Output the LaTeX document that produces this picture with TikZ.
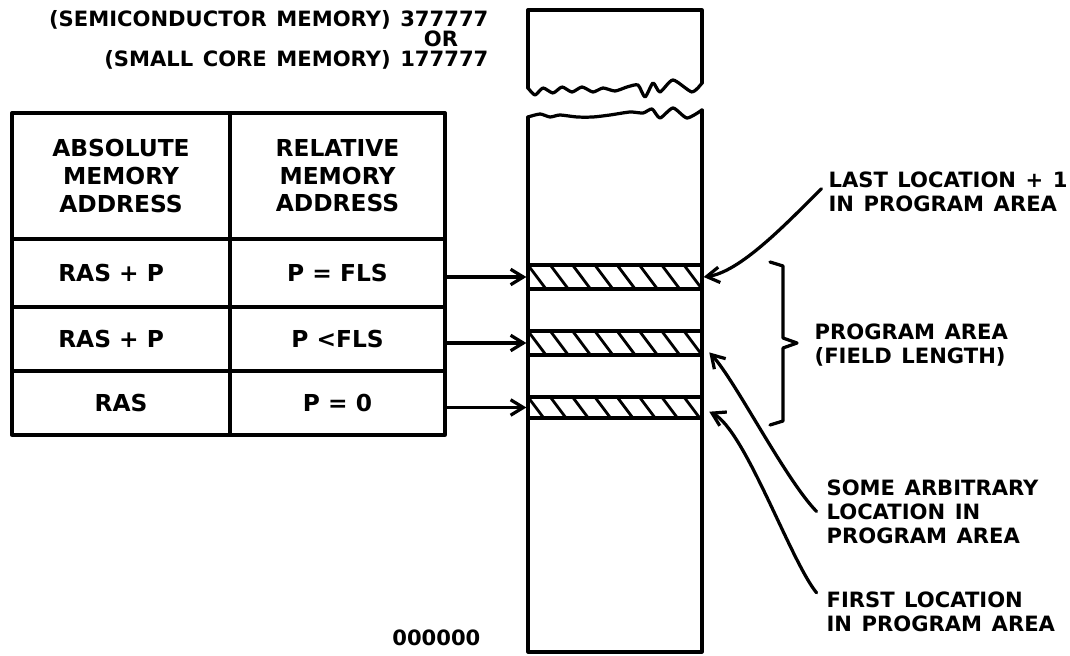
\documentclass[tikz,border=0pt]{standalone}
\usepackage{fontspec}
\setsansfont{DejaVu Sans}[WordSpace=1.3]
\newfontfamily\cellfont{DejaVu Sans}
\usetikzlibrary{arrows.meta}

\begin{document}
\begin{tikzpicture}[x=0.025cm,y=-0.025cm,line width=2.3pt,line join=round,line cap=round,
  every node/.style={inner sep=0pt,font=\sffamily\bfseries\fontsize{15}{17}\selectfont},
  cell/.style={draw,align=center,font=\cellfont\bfseries\fontsize{16.6}{19.6}\selectfont},
  lcol/.style={cell,minimum width=5.45cm},
  rcol/.style={cell,minimum width=5.375cm},
  band/.style={draw,fill=white,minimum width=4.35cm,
    path picture={\foreach \k in {0,...,8}
      \draw[line width=2pt] ([xshift=\k*0.557cm]path picture bounding box.north west) -- ++(0.5cm,-0.667cm);}},
  callout/.style={align=left},
  conn/.style={-{Straight Barb[length=9pt,width=11pt]}}]
\useasboundingbox (0,0) rectangle (1070,656);

% memory column with break
\draw (528,88) -- (528,10) -- (702,10) -- (702,83);
\draw plot[smooth,tension=0.4] coordinates {(528,88) (535,95) (543,88) (553,93) (562,87) (572,92) (582,87) (593,92) (603,88) (615,91) (627,87) (638,85) (645,97) (653,83) (660,92) (673,80) (692,92) (702,83)};
\draw plot[smooth,tension=0.4] coordinates {(528,117) (540,114) (550,117) (560,115) (577,117) (593,117) (610,115) (630,112) (643,113) (652,109) (660,118) (673,108) (687,118) (702,110)};
\draw (528,117) -- (528,652) -- (702,652) -- (702,110);

\node[band,minimum height=0.6cm] (b1) at (615,277) {};
\node[band,minimum height=0.6cm] (b2) at (615,343) {};
\node[band,minimum height=0.525cm] (b3) at (615,407.5) {};

% address table
\node[lcol,minimum height=3.15cm] (h1) at (121,176) {ABSOLUTE\\MEMORY\\ADDRESS};
\node[rcol,minimum height=3.15cm] (h2) at (337.5,176) {RELATIVE\\MEMORY\\ADDRESS};
\node[lcol,minimum height=1.7cm] (a1) at (121,273) {RAS + P\hspace{14pt}};
\node[rcol,minimum height=1.7cm] (r1) at (337.5,273) {P = FLS};
\node[lcol,minimum height=1.6cm] (a2) at (121,339) {RAS + P\hspace{14pt}};
\node[rcol,minimum height=1.6cm] (r2) at (337.5,339) {P <FLS};
\node[lcol,minimum height=1.6cm] (a3) at (121,403) {RAS};
\node[rcol,minimum height=1.6cm] (r3) at (337.5,403) {P = 0};

\draw[conn] (b1.west -| r1.east) -- (b1.west);
\draw[conn] (b2.west -| r2.east) -- (b2.west);
\draw[conn] (b3.west -| r3.east) -- (b3.west);

% addresses
\node[anchor=base east] (semi) at (490,27) {(SEMICONDUCTOR MEMORY) 377777};
\node[anchor=base] (or) at (441,47) {OR};
\node[anchor=base east] (small) at (490,67) {(SMALL CORE MEMORY) 177777};
\node[anchor=base east] (zero) at (482,645) {000000};

% brace and labels
\draw (770,262) -- (783,266) -- (783,338) -- (797,343) -- (783,348) -- (783,421) -- (770,425);
\node[callout,anchor=north west] (prog) at (813,322) {PROGRAM AREA\\(FIELD LENGTH)};

\node[callout,anchor=north west] (last) at (827,170) {LAST LOCATION + 1\\IN PROGRAM AREA};
\node[callout,anchor=north west] (arb) at (825,478) {SOME ARBITRARY\\LOCATION IN\\PROGRAM AREA};
\node[callout,anchor=north west] (first) at (825,590) {FIRST LOCATION\\IN PROGRAM AREA};

\draw[conn] ([shift={(-4pt,2pt)}]last.west) .. controls (785,225) and (740,272) .. (b1.east);
\draw[conn] ([xshift=-6pt]arb.west) .. controls (785,479) and (735,380) .. ([shift={(4pt,3pt)}]b2.south east);
\draw[conn] ([shift={(-6pt,-2pt)}]first.north west) .. controls (790,560) and (745,430) .. ([shift={(4pt,-3pt)}]b3.east);
\end{tikzpicture}
\end{document}
